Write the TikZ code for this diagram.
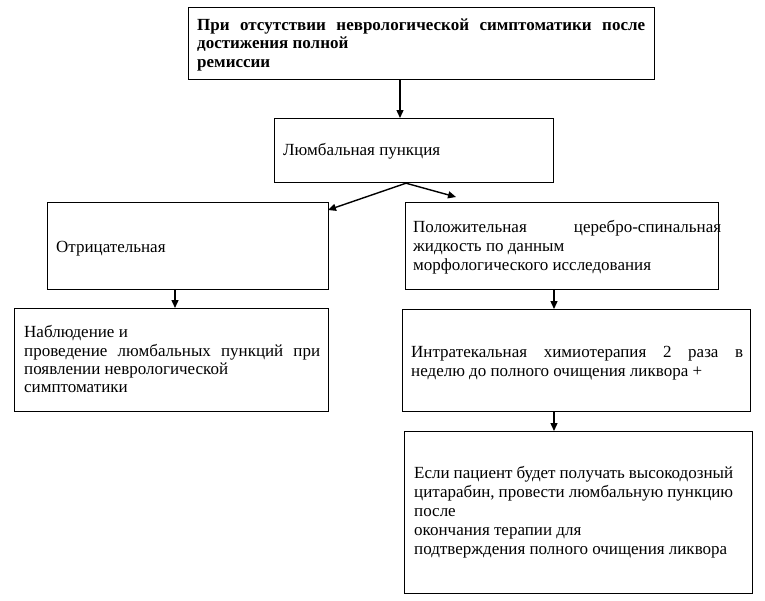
\documentclass[tikz,border=0pt]{standalone}
\usepackage{fontspec}
\setmainfont{Liberation Serif}
\usetikzlibrary{arrows.meta}
\tikzset{
  box/.style={draw=black, line width=1.2pt, rectangle, inner sep=0pt, anchor=north west},
  txt/.style={inner sep=0pt, anchor=north west, align=left, font=\fontsize{17}{19}\selectfont},
  arr/.style={draw=black, line width=1.4pt, -{Triangle[length=8pt,width=7pt]}}
}
\newcommand{\jl}[2]{\makebox[#1][s]{#2}}
\begin{document}
\begin{tikzpicture}[x=1pt,y=-1pt]
\useasboundingbox (0,0) rectangle (765,600);
% boxes
\node[box, minimum width=466pt, minimum height=72pt] (b1) at (188,7) {};
\node[box, minimum width=279pt, minimum height=64pt] (b2) at (274,118) {};
\node[box, minimum width=281pt, minimum height=87pt] (b3) at (47,202) {};
\node[box, minimum width=313pt, minimum height=87pt] (b4) at (405,202) {};
\node[box, minimum width=314pt, minimum height=103pt] (b5) at (14,308) {};
\node[box, minimum width=348pt, minimum height=102pt] (b6) at (402,309) {};
\node[box, minimum width=348pt, minimum height=162pt] (b7) at (404,431) {};
% texts
\node[txt, font=\fontsize{17}{18.5}\selectfont\bfseries] (t1) at (197,17) {\strut\jl{448pt}{При отсутствии неврологической симптоматики после}\\достижения полной\\ремиссии};
\node[txt] (t2) at (283,141.7) {\strut Люмбальная пункция};
\node[txt] (t3) at (56,238.7) {\strut Отрицательная};
\node[txt] (t4) at (413,218.7) {\strut\jl{308pt}{Положительная церебро-спинальная}\\жидкость по данным\\морфологического исследования};
\node[txt, font=\fontsize{17}{18.3}\selectfont] (t5) at (24,324.7) {\strut Наблюдение и\\\jl{296pt}{проведение люмбальных пункций при}\\появлении неврологической\\симптоматики};
\node[txt] (t6) at (411,343.7) {\strut\jl{332pt}{Интратекальная химиотерапия 2 раза в}\\неделю до полного очищения ликвора +};
\node[txt] (t7) at (414,464.7) {\strut\jl{319pt}{Если пациент будет получать высокодозный}\\\jl{319pt}{цитарабин, провести люмбальную пункцию}\\после\\окончания терапии для\\подтверждения полного очищения ликвора};
% connector points
\coordinate (c1) at (400,0);
\coordinate (c2) at (406,0);
\coordinate (l3) at (328,210);
\coordinate (r4) at (456,197);
\coordinate (c3) at (175,0);
\coordinate (c4) at (554,0);
% connectors
\draw[arr] (b1.south -| c1) -- (b2.north -| c1);
\draw[arr] (b2.south -| c2) -- (l3);
\draw[arr] (b2.south -| c2) -- (r4);
\draw[arr] (b3.south -| c3) -- (b5.north -| c3);
\draw[arr] (b4.south -| c4) -- (b6.north -| c4);
\draw[arr] (b6.south -| c4) -- (b7.north -| c4);
\end{tikzpicture}
\end{document}
